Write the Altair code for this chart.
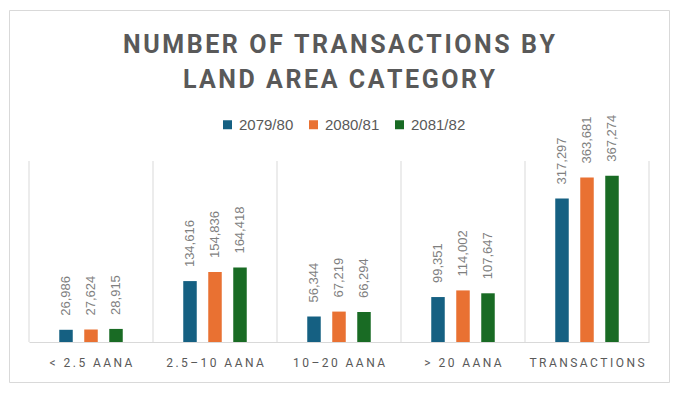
import altair as alt
import pandas as pd

categories = ["< 2.5 AANA", "2.5–10 AANA", "10–20 AANA", "> 20 AANA", "TRANSACTIONS"]
series = ["2079/80", "2080/81", "2081/82"]
values_2079_80 = [26986, 134616, 56344, 99351, 317297]
values_2080_81 = [27624, 154836, 67219, 114002, 363681]
values_2081_82 = [28915, 164418, 66294, 107647, 367274]
colors = ["#156082", "#E97132", "#196B24"]
y_max = 400000

rows = []
for s, vals in zip(series, [values_2079_80, values_2080_81, values_2081_82]):
    for c, v in zip(categories, vals):
        rows.append({"cat": c, "series": s, "value": v})
df = pd.DataFrame(rows)
grid_df = pd.DataFrame({"cat": categories, "y0": 0, "y1": y_max})
edge_df = pd.DataFrame({"cat": [categories[-1]], "y0": [0], "y1": [y_max]})

HS = "\u200a"
title_lines = [HS.join(list("NUMBER OF TRANSACTIONS BY")), HS.join(list("LAND AREA CATEGORY"))]

W, H = 660, 372
x_scale = alt.Scale(domain=categories, range=[20, 640], paddingInner=0, paddingOuter=0)
y_scale = alt.Scale(domain=[0, y_max], range=[332, 151], nice=False, zero=True)
off_scale = alt.Scale(domain=series, range=[24.5, 99.5], paddingInner=0.46, paddingOuter=0.23)

x_axis = alt.Axis(
    title=None, orient="bottom", offset=-40, ticks=False, tickSize=0, labelPadding=15,
    labelColor="#595959", labelFont="Roboto", labelFontSize=12, labelAngle=0,
    domainColor="#d9d9d9", grid=False,
    labelExpr="join(split(datum.label, ''), '\u2009')",
)

grid = alt.Chart(grid_df).mark_rule(color="#d9d9d9", strokeWidth=1).encode(
    x=alt.X("cat:N", scale=x_scale, bandPosition=0, axis=x_axis, sort=categories),
    y=alt.Y("y0:Q", scale=y_scale, axis=None),
    y2="y1:Q",
)
edge = alt.Chart(edge_df).mark_rule(color="#d9d9d9", strokeWidth=1).encode(
    x=alt.X("cat:N", scale=x_scale, bandPosition=1, sort=categories),
    y=alt.Y("y0:Q", scale=y_scale, axis=None),
    y2="y1:Q",
)

bars = alt.Chart(df).mark_bar().encode(
    x=alt.X("cat:N", scale=x_scale, sort=categories),
    xOffset=alt.XOffset("series:N", scale=off_scale, sort=series),
    y=alt.Y("value:Q", scale=y_scale, axis=None),
    color=alt.Color(
        "series:N", scale=alt.Scale(domain=series, range=colors),
        legend=alt.Legend(
            title=None, orient="none", direction="horizontal", legendX=211, legendY=107,
            symbolType="square", symbolSize=81, symbolStrokeWidth=0, symbolOpacity=1,
            labelFont="Liberation Sans", labelFontSize=15, labelColor="#595959",
            labelOffset=4, columnPadding=12,
        ),
    ),
)

labels = alt.Chart(df).mark_text(
    angle=270, align="left", baseline="middle", dx=14,
    font="Liberation Sans", fontSize=13, color="#7f7f7f",
).encode(
    x=alt.X("cat:N", scale=x_scale, sort=categories),
    xOffset=alt.XOffset("series:N", scale=off_scale, sort=series),
    y=alt.Y("value:Q", scale=y_scale, axis=None),
    text=alt.Text("value:Q", format=","),
)

chart = alt.layer(grid, edge, bars, labels).properties(
    width=W, height=H,
    title=alt.TitleParams(
        text=title_lines, anchor="middle", frame="group", font="Roboto", fontSize=25,
        fontWeight="bold", color="#595959", lineHeight=35, offset=0, dy=83,
    ),
    autosize=alt.AutoSizeParams(type="none"),
    padding={"left": 1, "top": 2, "right": 8, "bottom": 5},
).configure_view(stroke="#d9d9d9", strokeWidth=1)

chart.save("out.html", embed_options={"renderer": "svg", "actions": False})
